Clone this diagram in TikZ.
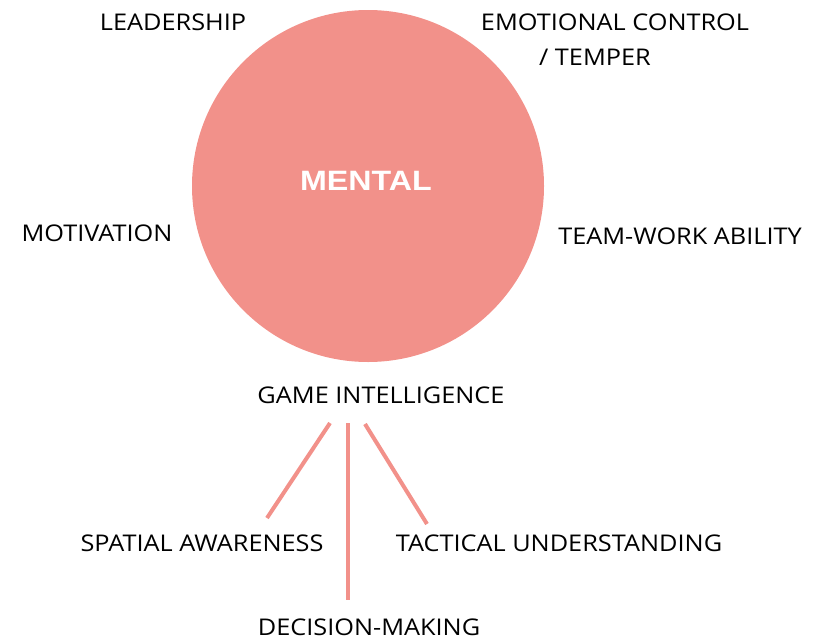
\documentclass[tikz,border=0pt]{standalone}
\usepackage{fontspec}
\setmainfont[FakeStretch=1.1]{Open Sans}
\newfontfamily\boldsans[FakeStretch=1.15]{Liberation Sans}
\definecolor{salmon}{HTML}{F2918A}
\begin{document}
\begin{tikzpicture}[x=1pt,y=-1pt,
  lbl/.style={inner sep=0pt, font=\fontsize{23}{26}\selectfont, text=black},
  link/.style={draw=salmon, line width=4pt}]
\useasboundingbox (0,0) rectangle (816,640);
% central circle
\fill[salmon] (368,186) circle (176);
\node[inner sep=0pt, font=\boldsans\bfseries\fontsize{28}{31}\selectfont, text=white] (mental) at (366,181) {MENTAL};
% surrounding qualities
\node[lbl] (lead) at (173,22) {LEADERSHIP};
\node[lbl] (emo) at (615,22) {EMOTIONAL CONTROL};
\node[lbl] (temper) at (595,57) {/ TEMPER};
\node[lbl] (motiv) at (97,233) {MOTIVATION};
\node[lbl] (team) at (680,236) {TEAM-WORK ABILITY};
\node[lbl] (game) at (381,395) {GAME INTELLIGENCE};
\node[lbl] (spatial) at (202,543) {SPATIAL AWARENESS};
\node[lbl] (tactical) at (559,543) {TACTICAL UNDERSTANDING};
\node[lbl] (decision) at (369,627) {DECISION-MAKING};
% branches of game intelligence
\coordinate (l0) at (330,423); \coordinate (l1) at (267,518);
\coordinate (m0) at (348,423); \coordinate (m1) at (348,600);
\coordinate (r0) at (365,424); \coordinate (r1) at (427,524);
\draw[link] (l0) -- (l1);
\draw[link] (m0) -- (m1);
\draw[link] (r0) -- (r1);
\end{tikzpicture}
\end{document}
